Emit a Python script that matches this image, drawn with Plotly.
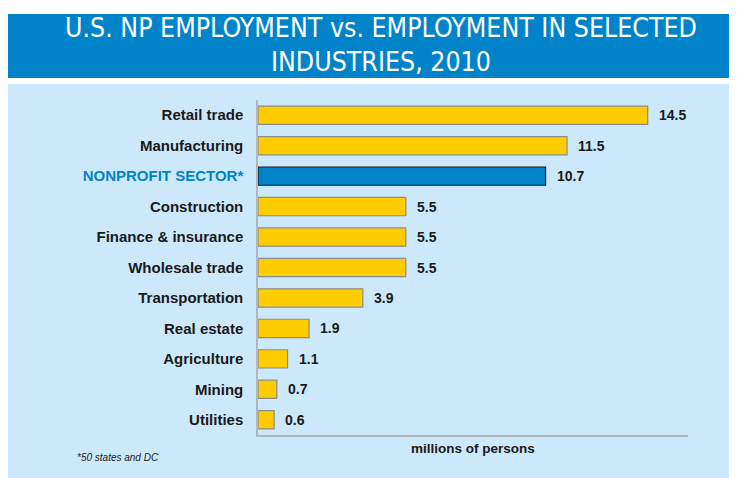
import plotly.graph_objects as go

categories = ["Retail trade", "Manufacturing", "NONPROFIT SECTOR*", "Construction",
              "Finance & insurance", "Wholesale trade", "Transportation", "Real estate",
              "Agriculture", "Mining", "Utilities"]
values = [14.5, 11.5, 10.7, 5.5, 5.5, 5.5, 3.9, 1.9, 1.1, 0.7, 0.6]
highlight = "NONPROFIT SECTOR*"

BLUE = "#0083C9"
YELLOW = "#FFCC00"
PANEL = "#CCE9FC"
FONT = "Liberation Sans, Arial, sans-serif"
NARROW = "DejaVu Sans Condensed, Liberation Sans Narrow, Arial Narrow, Liberation Sans, sans-serif"

bar_colors = [BLUE if c == highlight else YELLOW for c in categories]
line_colors = ["#1a1a1a" if c == highlight else "#8c8c8c" for c in categories]
ticktext = [f"<b><span style='color:{BLUE}'>{c}</span></b>" if c == highlight else f"<b>{c}</b>"
            for c in categories]

# figure is drawn inside an 8px page margin
W, H = 729, 470
L, R, T, B = 250, 49, 92, 43
PW, PH = W - L - R, H - T - B


def px(fx):
    return (fx - L) / PW


def py(fy):
    return (H - B - fy) / PH


fig = go.Figure()
fig.add_trace(go.Bar(
    x=values, y=categories, orientation="h", width=0.6,
    marker=dict(color=bar_colors, line=dict(color=line_colors, width=1.2)),
    hoverinfo="x+y",
))

for c, v in zip(categories, values):
    fig.add_annotation(x=v, y=c, text=f"<b>{v:.1f}</b>", showarrow=False,
                       xanchor="left", xshift=9, font=dict(size=14, color="#1a1a1a", family=FONT))

fig.update_layout(
    width=W, height=H,
    margin=dict(l=L, r=R, t=T, b=B),
    paper_bgcolor="white", plot_bgcolor=PANEL,
    showlegend=False,
    font=dict(family=FONT, color="#1a1a1a"),
    xaxis=dict(range=[0, 16], showgrid=False, zeroline=False, showticklabels=False,
               showline=True, linecolor="#b0b8bf", linewidth=1.5, fixedrange=True),
    yaxis=dict(autorange="reversed", showgrid=False, zeroline=False, showline=True,
               linecolor="#b0b8bf", linewidth=1.5, tickmode="array", tickvals=categories,
               ticktext=ticktext, tickfont=dict(size=15, family=FONT, color="#1a1a1a"),
               ticks="", ticklabelstandoff=10),
    shapes=[
        dict(type="rect", xref="paper", yref="paper", x0=px(0), x1=px(W),
             y0=py(H), y1=py(76), fillcolor=PANEL, line=dict(width=0), layer="below"),
        dict(type="rect", xref="paper", yref="paper", x0=px(0), x1=px(W),
             y0=py(70), y1=py(6), fillcolor=BLUE, line=dict(width=0), layer="below"),
    ],
)

fig.add_annotation(xref="paper", yref="paper", x=px(373), y=py(37),
                   text="U.S. NP EMPLOYMENT vs. EMPLOYMENT IN SELECTED<br>INDUSTRIES, 2010",
                   showarrow=False, xanchor="center", yanchor="middle",
                   font=dict(size=26.5, color="white", family=NARROW), align="center")
fig.add_annotation(xref="paper", yref="paper", x=0.5, y=py(440), text="<b>millions of persons</b>",
                   showarrow=False, xanchor="center", yanchor="middle",
                   font=dict(size=13.5, color="#1a1a1a", family=FONT))
fig.add_annotation(xref="paper", yref="paper", x=px(67), y=py(449), text="<i>*50 states and DC</i>",
                   showarrow=False, xanchor="left", yanchor="middle",
                   font=dict(size=10, color="#1a1a1a", family=FONT))

fig.write_html("out.html")
